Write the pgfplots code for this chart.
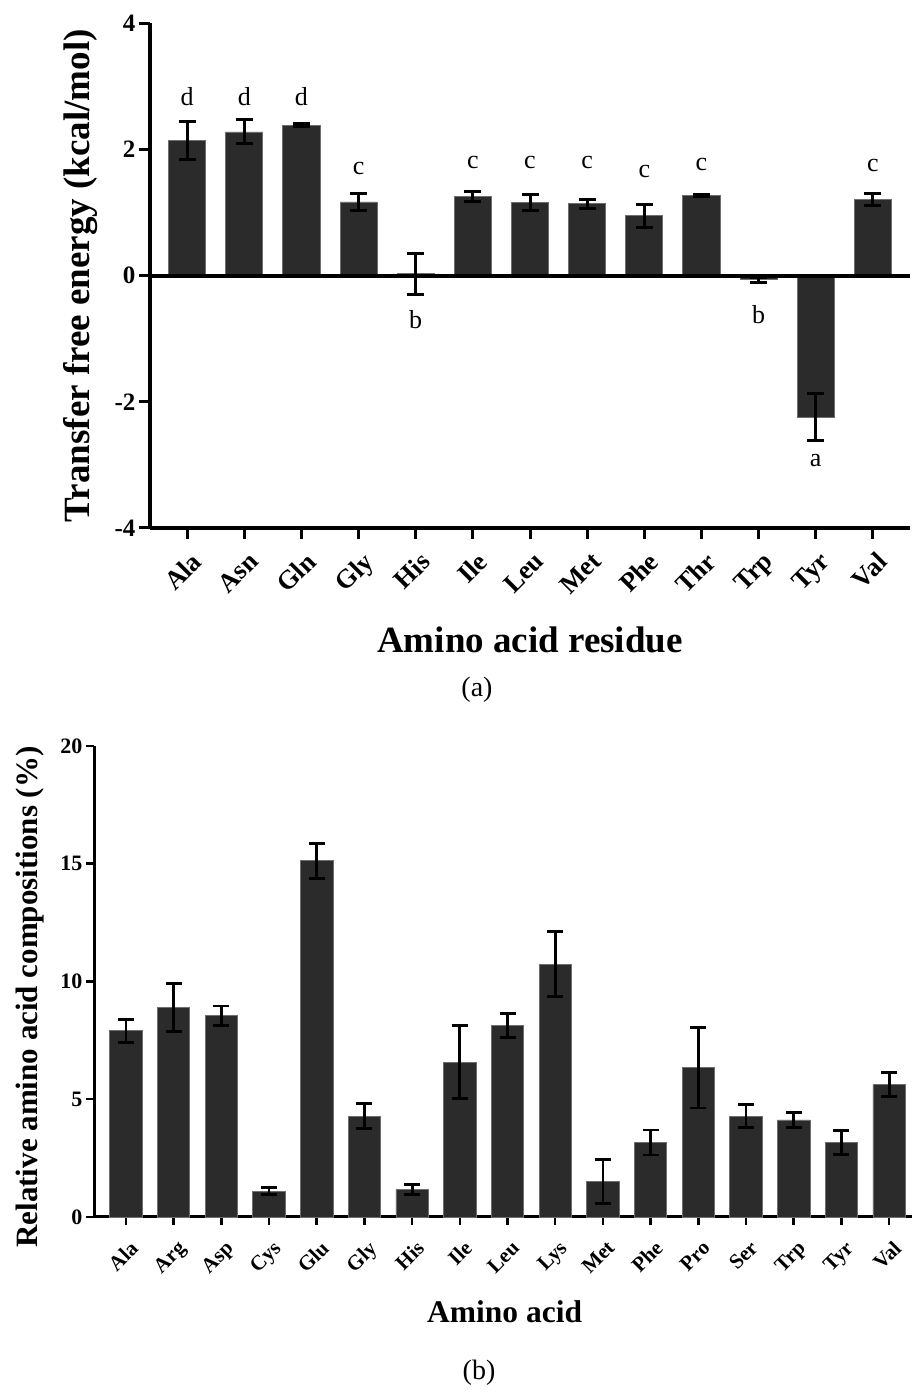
\documentclass[border=0pt]{standalone}
\usepackage{fontspec}
\setmainfont{Liberation Serif}
\usepackage{pgfplots}
\pgfplotsset{compat=1.18}
\definecolor{barfill}{HTML}{2B2B2B}
\definecolor{baredge}{HTML}{6E6E6E}
\begin{document}
\begin{tikzpicture}[x=1pt,y=1pt]
\useasboundingbox (0,0) rectangle (913,1394);
% ---------------- panel (a)
\begin{axis}[
  at={(150pt,866pt)}, anchor=south west,
  scale only axis, width=760pt, height=504.5pt,
  xmin=-0.65, xmax=12.65, ymin=-4, ymax=4,
  axis x line*=bottom, axis y line*=left,
  axis line style={line width=3.8pt, black},
  xtick={0,...,12},
  xticklabels={Ala,Asn,Gln,Gly,His,Ile,Leu,Met,Phe,Thr,Trp,Tyr,Val},
  ytick={-4,-2,0,2,4},
  tick align=outside, major tick length=11pt,
  tick style={line width=3pt, black},
  /pgf/number format/assume math mode=true,
  yticklabel style={font=\fontsize{25}{25}\selectfont\bfseries},
  xticklabel style={font=\fontsize{26.5}{26.5}\selectfont\bfseries, yshift=-10pt, xshift=3pt, rotate=45, anchor=north east, inner sep=1pt},
  xlabel={Amino acid residue},
  xlabel style={font=\fontsize{37}{37}\selectfont\bfseries, at={(axis description cs:0.5,-0.222)}, anchor=center},
  ylabel={Transfer free energy (kcal/mol)},
  ylabel style={font=\fontsize{37}{37}\selectfont\bfseries, at={(axis description cs:-0.092,0.5)}, anchor=center},
  clip=false,
]
\addplot[ybar, bar width=0.65, bar shift=0pt, fill=barfill, draw=baredge, line width=0.8pt,
  error bars/.cd, y dir=both, y explicit,
  error bar style={line width=3pt, black},
  error mark options={rotate=90, mark size=8.5pt, line width=3pt, black}]
coordinates {
(0,2.14) +- (0,0.30)
(1,2.28) +- (0,0.19)
(2,2.39) +- (0,0.02)
(3,1.17) +- (0,0.13)
(4,0.03) +- (0,0.33)
(5,1.26) +- (0,0.08)
(6,1.16) +- (0,0.13)
(7,1.14) +- (0,0.07)
(8,0.95) +- (0,0.18)
(9,1.27) +- (0,0.02)
(10,-0.06) +- (0,0.04)
(11,-2.24) +- (0,0.37)
(12,1.21) +- (0,0.09)
};
\addplot[black, line width=3.8pt, no marks, forget plot] coordinates {(-0.65,0) (12.65,0)};
\addplot[draw=none, no marks, nodes near coords, point meta=explicit symbolic,
  nodes near coords align={center},
  every node near coord/.append style={font=\fontsize{26}{26}\selectfont, anchor=center, inner sep=0pt}]
coordinates {
(0,2.84) [d]
(1,2.84) [d]
(2,2.84) [d]
(3,1.70) [c]
(4,-0.69) [b]
(5,1.79) [c]
(6,1.79) [c]
(7,1.79) [c]
(8,1.66) [c]
(9,1.77) [c]
(10,-0.61) [b]
(11,-2.93) [a]
(12,1.75) [c]
};
\end{axis}
\node[font=\fontsize{28}{28}\selectfont] at (477,704) {(a)};
% ---------------- panel (b)
\begin{axis}[
  at={(94pt,177pt)}, anchor=south west,
  scale only axis, width=818pt, height=471pt,
  xmin=-0.67, xmax=16.48, ymin=0, ymax=20,
  axis x line*=bottom, axis y line*=left,
  axis line style={line width=3pt, black},
  xtick={0,...,16},
  xticklabels={Ala,Arg,Asp,Cys,Glu,Gly,His,Ile,Leu,Lys,Met,Phe,Pro,Ser,Trp,Tyr,Val},
  ytick={0,5,10,15,20},
  tick align=outside, major tick length=8pt,
  tick style={line width=2.5pt, black},
  /pgf/number format/assume math mode=true,
  yticklabel style={font=\fontsize{22}{22}\selectfont\bfseries},
  xticklabel style={font=\fontsize{21}{21}\selectfont\bfseries, yshift=-13pt, xshift=3pt, rotate=45, anchor=north east, inner sep=1pt},
  xlabel={Amino acid},
  xlabel style={font=\fontsize{31.5}{31.5}\selectfont\bfseries, at={(axis description cs:0.502,-0.2017)}, anchor=center},
  ylabel={Relative amino acid compositions (\%)},
  ylabel style={font=\fontsize{31}{31}\selectfont\bfseries, at={(axis description cs:-0.078,0.467)}, anchor=center},
  clip=false,
]
\addplot[ybar, bar width=0.68, bar shift=0pt, fill=barfill, draw=baredge, line width=0.8pt,
  error bars/.cd, y dir=both, y explicit,
  error bar style={line width=2.8pt, black},
  error mark options={rotate=90, mark size=8pt, line width=2.8pt, black}]
coordinates {
(0,7.91) +- (0,0.49)
(1,8.90) +- (0,1.03)
(2,8.55) +- (0,0.41)
(3,1.10) +- (0,0.15)
(4,15.13) +- (0,0.74)
(5,4.28) +- (0,0.53)
(6,1.17) +- (0,0.22)
(7,6.58) +- (0,1.55)
(8,8.14) +- (0,0.51)
(9,10.73) +- (0,1.38)
(10,1.51) +- (0,0.92)
(11,3.16) +- (0,0.53)
(12,6.34) +- (0,1.71)
(13,4.28) +- (0,0.49)
(14,4.12) +- (0,0.32)
(15,3.15) +- (0,0.51)
(16,5.62) +- (0,0.50)
};
\end{axis}
\node[font=\fontsize{28}{28}\selectfont] at (479,21) {(b)};
\end{tikzpicture}
\end{document}
